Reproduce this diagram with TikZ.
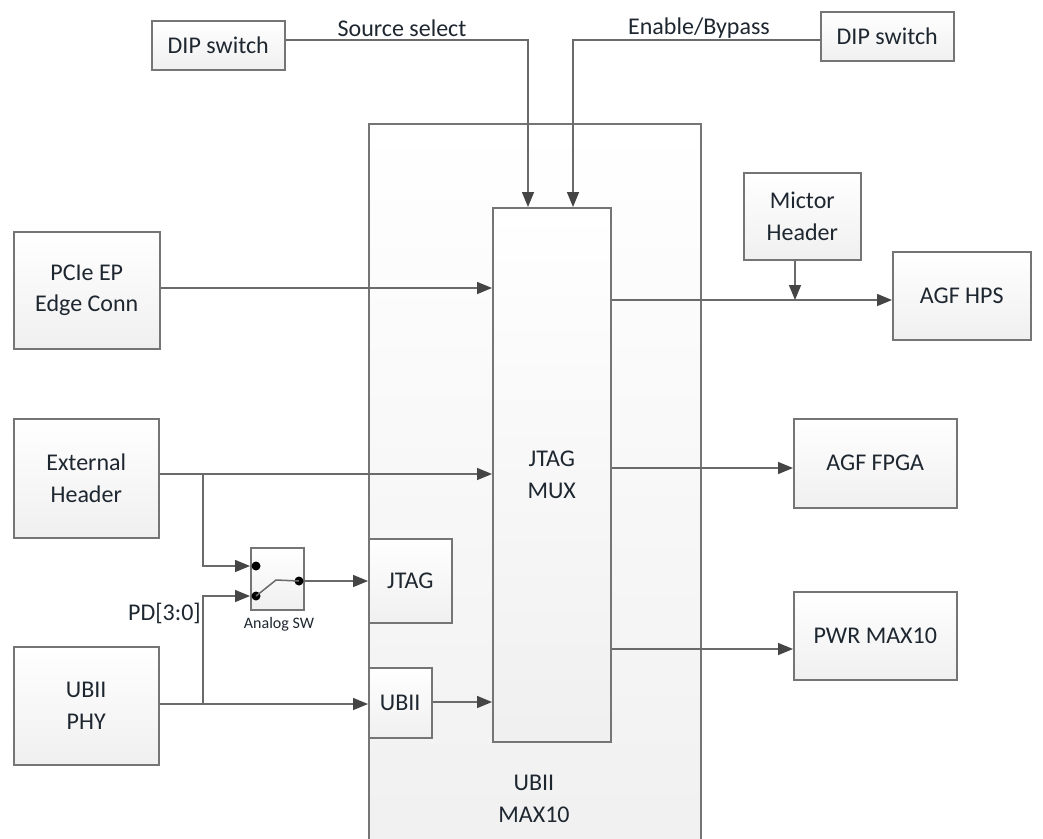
\documentclass[tikz,border=0pt]{standalone}
\usepackage{fontspec}
\setmainfont{Carlito}
\usetikzlibrary{arrows.meta}
\definecolor{edgegray}{HTML}{757575}
\definecolor{wiregray}{HTML}{6A6A6A}
\definecolor{tipgray}{HTML}{454545}
\definecolor{inkdark}{HTML}{1E2730}
\tikzset{
  x=1pt,y=-1pt,
  blockbox/.style={draw=edgegray,line width=1.5pt,rectangle,inner sep=0pt,anchor=north west,
    top color=white,bottom color=black!6,align=center,text=inkdark,font=\fontsize{24}{31.5}\selectfont},
  wire/.style={draw=wiregray,line width=1.5pt},
  flow/.style={wire,-{Triangle[length=15pt,width=12pt,color=tipgray]}},
  caption/.style={text=inkdark,font=\fontsize{24}{31.5}\selectfont,align=center,inner sep=0pt},
  dotnode/.style={circle,fill=black,inner sep=0pt,minimum size=9pt},
}
\newcommand{\blk}[6]{\node[blockbox,minimum width=#4pt,minimum height=#5pt] (#1) at (#2,#3) {#6};}
\begin{document}
\begin{tikzpicture}
\useasboundingbox (0,0) rectangle (1043,838);
\clip (0,0) rectangle (1043,838);
\fill[white] (0,0) rectangle (1043,838);
\blk{maxten}{368}{123}{332}{760}{}
\blk{mux}{492}{207}{118}{534}{JTAG\\MUX}
\blk{jtag}{368}{538}{83}{84}{JTAG}
\blk{ubii}{368}{667}{63}{70}{UBII}
\blk{dipa}{151}{20}{133}{49}{DIP switch}
\blk{dipb}{820}{11}{133}{49}{DIP switch}
\blk{mictor}{743}{172}{117}{87}{Mictor\\Header}
\blk{hps}{892}{251}{138}{88}{AGF HPS}
\blk{fpga}{793}{418}{163}{89}{AGF FPGA}
\blk{pwr}{793}{591}{163}{88}{PWR MAX10}
\blk{pcie}{13}{231}{146}{117}{PCIe EP\\Edge Conn}
\blk{ext}{13}{418}{145}{119}{External\\Header}
\blk{phy}{13}{646}{145}{118}{UBII\\PHY}
\blk{sw}{250}{547}{53}{62}{}
\node[caption] (maxlabel) at (534,799) {UBII\\MAX10};
\node[caption] (srclabel) at (402,28) {Source select};
\node[caption] (enlabel) at (699,28) {Enable/Bypass};
\node[caption] (pdlabel) at (164.5,613) {PD[3:0]};
\node[caption,font=\fontsize{16}{18}\selectfont] (swlabel) at (279,624) {Analog SW};
\node[dotnode] (ina) at (256,566) {};
\node[dotnode] (inb) at (256,596) {};
\node[dotnode] (outc) at (299,581) {};
\coordinate (bend) at (276,580);
\coordinate (srcin) at (528,207);
\coordinate (enin) at (573,207);
\coordinate (srcturn) at (528,40);
\coordinate (enturn) at (573,40);
\coordinate (tapext) at (203,474);
\coordinate (tapphy) at (203,704);
\coordinate (hpsmerge) at (795,300);
% switch
\draw[wire] (inb.center) -- (bend) -- (outc.center);
% DIP
\draw[flow] (dipa.east |- srcturn) -- (srcturn) -- (srcin);
\draw[flow] (dipb.west |- enturn) -- (enturn) -- (enin);
% left inputs
\draw[flow] (pcie.east |- 0,288) -- (mux.west |- 0,288);
\draw[flow] (ext.east |- tapext) -- (mux.west |- tapext);
\draw[flow] (tapext) -- (tapext |- ina) -- (sw.west |- ina);
\draw[flow] (tapphy) -- (tapphy |- inb) -- (sw.west |- inb);
\draw[flow] (phy.east |- tapphy) -- (ubii.west |- tapphy);
\draw[flow] (outc) -- (jtag.west |- outc);
\draw[flow] (ubii.east |- 0,702) -- (mux.west |- 0,702);
% outputs
\draw[flow] (mux.east |- hpsmerge) -- (hps.west |- hpsmerge);
\draw[flow] (mux.east |- 0,468) -- (fpga.west |- 0,468);
\draw[flow] (mux.east |- 0,649) -- (pwr.west |- 0,649);
\draw[flow] (mictor.south -| hpsmerge) -- (hpsmerge);
\end{tikzpicture}
\end{document}
